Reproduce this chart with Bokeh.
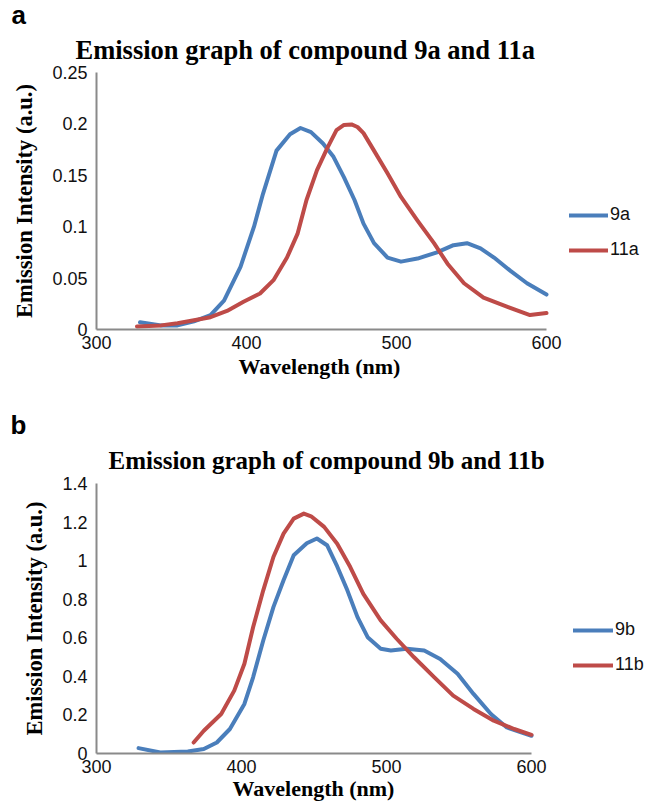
from bokeh.plotting import figure
from bokeh.layouts import column
from bokeh.models import Range1d, FixedTicker, Legend, LegendItem, Title
from bokeh.embed import file_html
from bokeh.resources import INLINE

# ---- data: panel a ----
wl_9a = [329, 343, 354, 365, 376, 385, 396, 405, 411, 420, 429, 436, 443, 451, 458, 465,
         472, 478, 485, 494, 503, 514, 527, 538, 547, 556, 565, 576, 587, 600]
em_9a = [0.007, 0.004, 0.004, 0.008, 0.014, 0.028, 0.061, 0.100, 0.132, 0.174, 0.190, 0.196,
         0.192, 0.181, 0.168, 0.148, 0.126, 0.103, 0.084, 0.070, 0.066, 0.069, 0.075, 0.082,
         0.084, 0.079, 0.070, 0.057, 0.045, 0.034]
wl_11a = [327, 343, 354, 365, 376, 387, 398, 409, 418, 427, 434, 440, 447, 454, 460, 465, 470,
          474, 478, 485, 494, 503, 514, 525, 534, 545, 558, 574, 589, 600]
em_11a = [0.003, 0.004, 0.006, 0.009, 0.012, 0.018, 0.027, 0.035, 0.048, 0.070, 0.093, 0.126,
          0.155, 0.177, 0.194, 0.199, 0.1995, 0.197, 0.191, 0.174, 0.152, 0.129, 0.106, 0.084,
          0.064, 0.045, 0.031, 0.022, 0.014, 0.016]
ticks_a = [0, 0.05, 0.1, 0.15, 0.2, 0.25]
tick_labels_a = ["0", "0.05", "0.1", "0.15", "0.2", "0.25"]

# ---- data: panel b ----
wl_9b = [329, 344, 363, 374, 383, 392, 402, 408, 415, 422, 429, 436, 445, 452, 459, 466, 473,
         480, 487, 496, 503, 514, 526, 537, 549, 560, 572, 583, 600]
em_9b = [0.028, 0.005, 0.010, 0.023, 0.057, 0.127, 0.257, 0.395, 0.586, 0.759, 0.898, 1.028,
         1.090, 1.115, 1.080, 0.970, 0.846, 0.707, 0.603, 0.543, 0.534, 0.543, 0.534, 0.490,
         0.413, 0.309, 0.205, 0.135, 0.092]
wl_11b = [367, 374, 386, 395, 402, 408, 415, 422, 429, 436, 443, 448, 457, 466, 475, 484, 496,
          507, 519, 533, 546, 560, 574, 588, 600]
em_11b = [0.057, 0.118, 0.205, 0.326, 0.465, 0.655, 0.846, 1.019, 1.140, 1.218, 1.244, 1.230,
          1.175, 1.088, 0.967, 0.828, 0.690, 0.595, 0.499, 0.395, 0.300, 0.231, 0.170, 0.127,
          0.097]
ticks_b = [0, 0.2, 0.4, 0.6, 0.8, 1, 1.2, 1.4]
tick_labels_b = ["0", "0.2", "0.4", "0.6", "0.8", "1", "1.2", "1.4"]

x_min, x_max = 300, 600
x_ticks = [300, 400, 500, 600]
x_tick_labels = ["300", "400", "500", "600"]

BLUE = "#4a7ebb"
RED = "#be4b48"
SERIF = "Liberation Serif"
SANS = "Liberation Sans"

FIG_W = 648
LEFT = 96
FRAME_W = FIG_W - LEFT  # frame runs to the right edge; legend lives inside it


def make_panel(letter, title, title_size, series, y_max, yticks, ylabels, height, cfg):
    # the x axis (300..600) covers cfg["axis_px"] pixels; the rest of the frame holds the legend
    x_end = x_min + (x_max - x_min) * FRAME_W / cfg["axis_px"]
    p = figure(width=FIG_W, height=height, output_backend="svg", toolbar_location=None,
               x_range=Range1d(x_min, x_end), y_range=Range1d(0, y_max),
               min_border_left=LEFT, min_border_right=0,
               min_border_top=cfg["top"], min_border_bottom=cfg["bottom"])
    p.title.text = letter
    p.title.text_font = SANS
    p.title.text_font_size = "26px"
    p.title.text_font_style = "bold"
    p.title.text_color = "#000000"
    p.title.align = "left"
    p.title.offset = cfg["letter_offset"]
    p.title.standoff = cfg["letter_standoff"]
    p.add_layout(Title(text=title, text_font=SERIF, text_font_size=title_size,
                       text_font_style="bold", text_color="#000000", align="left",
                       offset=cfg["title_offset"], standoff=cfg["title_standoff"]), "above")

    items = []
    for name, xs, ys, color in series:
        r = p.line(xs, ys, line_color=color, line_width=4, line_join="round", line_cap="round")
        items.append(LegendItem(label=name, renderers=[r]))

    legend = Legend(items=items, location=cfg["legend_loc"], glyph_width=cfg["glyph_w"],
                    glyph_height=20, label_standoff=2, spacing=14, padding=0, margin=0,
                    label_text_font=SANS, label_text_font_size="18px",
                    label_text_color="#111111", border_line_color=None,
                    background_fill_alpha=0)
    p.add_layout(legend)

    p.xaxis.ticker = FixedTicker(ticks=x_ticks)
    p.xaxis.major_label_overrides = dict(zip(x_ticks, x_tick_labels))
    p.xaxis.bounds = (x_min, x_max)
    p.yaxis.ticker = FixedTicker(ticks=yticks)
    p.yaxis.major_label_overrides = dict(zip(yticks, ylabels))
    p.yaxis.axis_label = "Emission Intensity (a.u.)"
    for ax in (p.xaxis[0], p.yaxis[0]):
        ax.axis_line_color = "#8a8a8a"
        ax.axis_line_width = 2
        ax.major_tick_line_color = None
        ax.minor_tick_line_color = None
        ax.major_tick_out = 0
        ax.major_tick_in = 0
        ax.minor_tick_out = 0
        ax.minor_tick_in = 0
        ax.major_label_text_font = SANS
        ax.major_label_text_font_size = "18px"
        ax.major_label_text_color = "#111111"
        ax.axis_label_text_font = SERIF
        ax.axis_label_text_font_size = "22.5px"
        ax.axis_label_text_font_style = "bold"
        ax.axis_label_text_color = "#000000"
    p.xaxis.major_label_standoff = 6
    p.yaxis.major_label_standoff = 9
    p.yaxis.axis_label_standoff = 12
    # x-axis title centred under the 300..600 span
    p.add_layout(Title(text="Wavelength (nm)", text_font=SERIF, text_font_size="22px",
                       text_font_style="bold", text_color="#000000", align="left",
                       vertical_align="top", offset=cfg["xlabel_offset"],
                       standoff=cfg["xlabel_standoff"]), "below")
    p.grid.visible = False
    p.outline_line_color = None
    return p


cfg_a = dict(axis_px=450, top=72, bottom=79, letter_offset=-85, letter_standoff=-10,
             title_offset=-21, title_standoff=16, legend_loc=(473, 69), glyph_w=39,
             xlabel_offset=142, xlabel_standoff=4)
cfg_b = dict(axis_px=435, top=75, bottom=55, letter_offset=-86, letter_standoff=-10,
             title_offset=12, title_standoff=20, legend_loc=(477, 78), glyph_w=40,
             xlabel_offset=136, xlabel_standoff=0)

pa = make_panel("a", "Emission graph of compound 9a and 11a", "26.5px",
                [("9a", wl_9a, em_9a, BLUE), ("11a", wl_11a, em_11a, RED)],
                0.25, ticks_a, tick_labels_a, 408, cfg_a)
pb = make_panel("b", "Emission graph of compound 9b and 11b", "25px",
                [("9b", wl_9b, em_9b, BLUE), ("11b", wl_11b, em_11b, RED)],
                1.4, ticks_b, tick_labels_b, 400, cfg_b)

layout = column(pa, pb)
open("out.html", "w").write(file_html(layout, INLINE))
